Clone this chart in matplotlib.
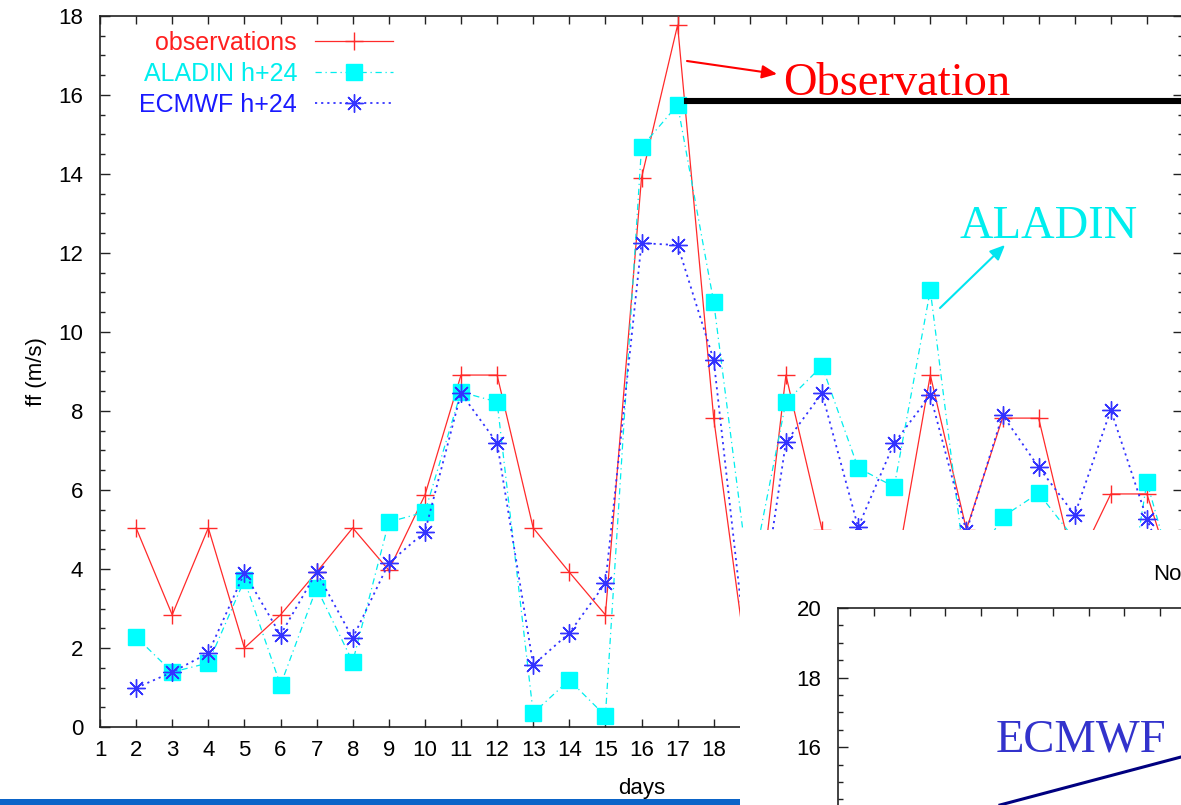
import numpy as np
import matplotlib.pyplot as plt
from matplotlib.patches import Rectangle
from matplotlib.lines import Line2D
from matplotlib.ticker import MultipleLocator
from matplotlib.transforms import IdentityTransform

# wind speed, days 2..31
days = list(range(2, 32))
obs = [5.04, 2.84, 5.04, 2.0, 2.84, 3.92, 5.04, 3.97, 5.87, 8.91,
       8.91, 5.04, 3.92, 2.84, 13.9, 17.77, 7.82, 1.05, 8.91, 5.0,
       3.9, 3.7, 8.91, 5.0, 7.82, 7.82, 4.0, 5.9, 5.9, 3.0]
aladin = [2.28, 1.39, 1.62, 3.72, 1.06, 3.52, 1.65, 5.19, 5.44, 8.48,
          8.23, 0.35, 1.19, 0.28, 14.68, 15.75, 10.76, 3.6, 8.23, 9.14,
          6.56, 6.08, 11.06, 3.8, 5.32, 5.92, 4.75, 0.5, 6.2, 3.0]
ecmwf = [0.99, 1.39, 1.87, 3.9, 2.33, 3.92, 2.25, 4.15, 4.94, 8.45,
         7.19, 1.57, 2.38, 3.64, 12.25, 12.2, 9.29, 1.1, 7.21, 8.45,
         5.06, 7.19, 8.4, 4.95, 7.9, 6.58, 5.37, 8.03, 5.27, 3.0]
x_ticks = list(range(1, 32))
x_labels = [str(d) if d <= 18 else '' for d in x_ticks]  # rest is hidden by the pasted panel
y_ticks = list(range(0, 19, 2))
inset_yticks = [16, 18, 20]

W, H = 1181, 805
SANS = 'Liberation Sans'
SERIF = 'Liberation Serif'
FS = 16

fig = plt.figure(figsize=(W / 100, H / 100), dpi=100)

def fpos(l, t, r, b):
    # pixel box (top-left origin) -> figure fraction
    return [l / W, 1 - b / H, (r - l) / W, (b - t) / H]

# ---------------- main gnuplot chart ----------------
ax = fig.add_axes(fpos(100, 16, 1183, 727))
ax.plot(days, obs, color='#ff2a2a', lw=0.9, marker='+', ms=13, mew=1.0,
        label='observations', zorder=3)
ax.plot(days, aladin, color='#00eeee', lw=0.9, ls=(0, (5, 3, 1, 3)), marker='s',
        ms=11.5, mfc='#00ffff', mec='#00ffff', label='ALADIN h+24', zorder=4)
ax.plot(days, ecmwf, color='#3333ff', lw=1.3, ls=(0, (1.2, 2.2)), marker=(8, 2, 0),
        ms=13, mew=1.0, label='ECMWF h+24', zorder=5)

ax.set_xlim(1, 31)
ax.set_ylim(0, 18)
ax.set_xticks(x_ticks)
ax.set_xticklabels(x_labels)
ax.set_yticks(y_ticks)
ax.yaxis.set_minor_locator(MultipleLocator(0.5))
ax.tick_params(which='both', direction='in', top=True, right=True, color='#222222',
               labelsize=FS, width=1.0)
ax.tick_params(axis='y', which='major', length=7, pad=12)
ax.tick_params(axis='y', which='minor', length=3.5)
ax.tick_params(axis='x', which='major', length=5.5, pad=9)
for lab in ax.get_xticklabels() + ax.get_yticklabels():
    lab.set_family(SANS)
for s in ax.spines.values():
    s.set_color('#222222')
    s.set_linewidth(1.2)
ax.set_xlabel('days', fontsize=FS, family=SANS)
ax.xaxis.set_label_coords(0.5, -(778 - 727) / 711)
ax.set_ylabel('ff (m/s)', fontsize=FS, family=SANS)
ax.yaxis.set_label_coords(-(100 - 47) / 1083, 0.5)

# gnuplot style key: labels right-aligned, samples on the right
leg = ax.legend(loc='upper right', bbox_to_anchor=(393, H - 31),
                bbox_transform=IdentityTransform(),
                frameon=False, markerfirst=False, handlelength=78 / 25,
                handletextpad=18 / 25, labelspacing=0.27, borderpad=0, borderaxespad=0,
                prop={'family': SANS, 'size': 18})
for t, c in zip(leg.get_texts(), ['#ff2020', '#00eeee', '#1a1aff']):
    t.set_color(c)

# ---------------- pasted overlay ----------------
fig.add_artist(Rectangle((740 / W, 0), 1, 1 - 530 / H, transform=fig.transFigure,
                         facecolor='white', edgecolor='none', zorder=2))
fig.text(1153 / W, 1 - 580 / H, 'No', fontsize=FS, family=SANS, zorder=3)

ax2 = fig.add_axes(fpos(838, 608, 1400, 900), zorder=4)
ax2.set_xlim(0, 562 / 35.8)
ax2.set_ylim(20 - 292 / 34.8, 20)
ax2.set_xticks(range(1, 16))
ax2.set_yticks(inset_yticks)
ax2.yaxis.set_minor_locator(MultipleLocator(0.5))
ax2.tick_params(which='both', direction='in', top=True, bottom=False, right=False,
                labelbottom=False, color='#222222', labelsize=FS, width=1.0)
ax2.tick_params(axis='y', which='major', length=7, pad=12)
ax2.tick_params(axis='y', which='minor', length=3.5)
ax2.tick_params(axis='x', which='major', length=5.5)
for lab in ax2.get_yticklabels():
    lab.set_family(SANS)
for s in ax2.spines.values():
    s.set_color('#222222')
    s.set_linewidth(1.2)

# ---------------- slide annotations ----------------
def fp(x, y):
    return (x, H - y)

ax.annotate('', xy=fp(777, 74), xytext=fp(687, 61), xycoords='figure pixels',
            textcoords='figure pixels',
            arrowprops=dict(arrowstyle='-|>,head_length=0.9,head_width=0.4',
                            color='red', lw=1.5, shrinkA=0, shrinkB=0), zorder=6)
fig.text(783 / W, 1 - 95 / H, 'Observation', color='red', fontsize=33.5,
         family=SERIF, va='baseline', zorder=6)
fig.add_artist(Line2D([687 / W, 1.0], [1 - 101 / H, 1 - 101 / H], color='black',
                      lw=4.4, transform=fig.transFigure, zorder=6))

ax.annotate('', xy=fp(1005, 245), xytext=fp(940, 308), xycoords='figure pixels',
            textcoords='figure pixels',
            arrowprops=dict(arrowstyle='-|>,head_length=0.9,head_width=0.4',
                            color='#00e5f0', lw=1.5, shrinkA=0, shrinkB=0), zorder=6)
fig.text(960 / W, 1 - 238 / H, 'ALADIN', color='#00eeee', fontsize=33.5,
         family=SERIF, va='baseline', zorder=6)

fig.text(996 / W, 1 - 751 / H, 'ECMWF', color='#3333cc', fontsize=33.5,
         family=SERIF, va='baseline', zorder=6)
fig.add_artist(Line2D([1000 / W, 1.0], [1 - 805 / H, 1 - 757 / H], color='#000080',
                      lw=2.2, transform=fig.transFigure, zorder=6))

fig.add_artist(Rectangle((0, 0), 740 / W, 6 / H, transform=fig.transFigure,
                         facecolor='#0b64c8', edgecolor='none', zorder=6))

fig.savefig('out.png', dpi=100)
